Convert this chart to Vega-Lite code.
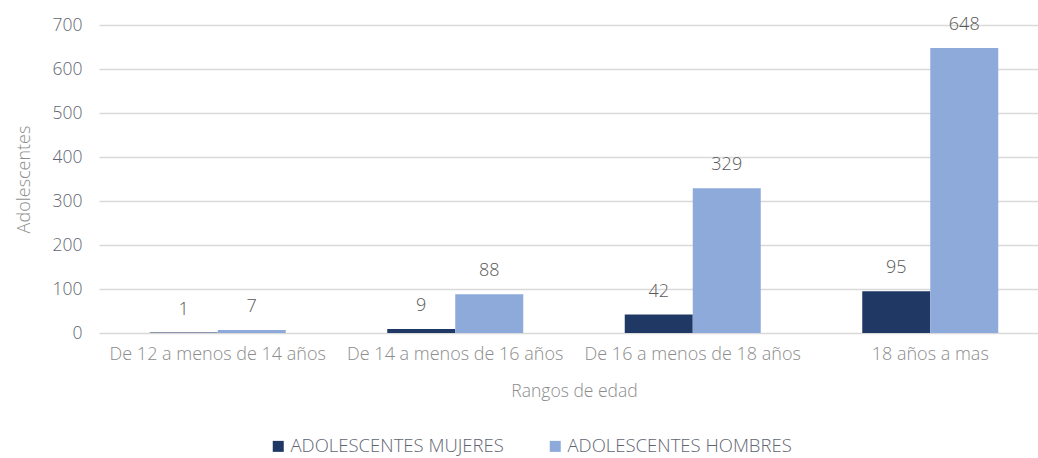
{
  "$schema": "https://vega.github.io/schema/vega-lite/v6.json",
  "autosize": {"type": "none"},
  "padding": {"left": 99, "top": 25, "right": 0, "bottom": 125},
  "width": 950,
  "height": 308,
  "background": "white",
  "config": {
    "font": "Open Sans",
    "view": {"stroke": null}
  },
  "data": {
    "values": [
      {"rango": "De 12 a menos de 14 años", "grupo": "ADOLESCENTES MUJERES", "valor": 1},
      {"rango": "De 12 a menos de 14 años", "grupo": "ADOLESCENTES HOMBRES", "valor": 7},
      {"rango": "De 14 a menos de 16 años", "grupo": "ADOLESCENTES MUJERES", "valor": 9},
      {"rango": "De 14 a menos de 16 años", "grupo": "ADOLESCENTES HOMBRES", "valor": 88},
      {"rango": "De 16 a menos de 18 años", "grupo": "ADOLESCENTES MUJERES", "valor": 42},
      {"rango": "De 16 a menos de 18 años", "grupo": "ADOLESCENTES HOMBRES", "valor": 329},
      {"rango": "18 años a mas", "grupo": "ADOLESCENTES MUJERES", "valor": 95},
      {"rango": "18 años a mas", "grupo": "ADOLESCENTES HOMBRES", "valor": 648}
    ]
  },
  "encoding": {
    "x": {
      "field": "rango",
      "type": "nominal",
      "sort": null,
      "scale": {"paddingInner": 0.4274, "paddingOuter": 0.2137},
      "axis": {
        "title": "Rangos de edad",
        "labelAngle": 0,
        "labelFontSize": 18,
        "labelFontWeight": 300,
        "labelColor": "#8c8c8c",
        "labelLimit": 0,
        "labelPadding": 12,
        "labelOverlap": false,
        "titleFontSize": 17.5,
        "titleColor": "#8c8c8c",
        "titleFontWeight": 300,
        "titlePadding": 19,
        "domain": false,
        "ticks": false
      }
    },
    "xOffset": {
      "field": "grupo",
      "type": "nominal",
      "sort": ["ADOLESCENTES MUJERES", "ADOLESCENTES HOMBRES"],
      "scale": {"paddingInner": 0, "paddingOuter": 0}
    },
    "y": {
      "field": "valor",
      "type": "quantitative",
      "scale": {"domain": [0, 700]},
      "axis": {
        "title": "Adolescentes",
        "values": [0, 100, 200, 300, 400, 500, 600, 700],
        "labelFontSize": 17.5,
        "labelFontWeight": 300,
        "labelColor": "#5f6673",
        "labelPadding": 17,
        "titleFontSize": 18,
        "titleColor": "#8c8c8c",
        "titleFontWeight": 300,
        "titlePadding": 19,
        "domain": false,
        "ticks": false,
        "gridColor": "#d9d9d9",
        "gridWidth": 1.5
      }
    }
  },
  "layer": [
    {
      "mark": {"type": "bar"},
      "encoding": {
        "color": {
          "field": "grupo",
          "type": "nominal",
          "sort": ["ADOLESCENTES MUJERES", "ADOLESCENTES HOMBRES"],
          "scale": {"domain": ["ADOLESCENTES MUJERES", "ADOLESCENTES HOMBRES"], "range": ["#1f3864", "#8eaadb"]},
          "legend": {
            "title": null,
            "orient": "none",
            "legendX": 170,
            "legendY": 412,
            "padding": 0,
            "direction": "horizontal",
            "columns": 2,
            "columnPadding": 42,
            "symbolType": "square",
            "symbolSize": 121,
            "symbolStrokeWidth": 0,
            "symbolOpacity": 1,
            "labelFontSize": 18.5,
            "labelFontWeight": 300,
            "labelColor": "#5f6673",
            "labelLimit": 0,
            "labelOffset": 3
          }
        }
      }
    },
    {
      "mark": {"type": "text", "baseline": "middle", "dy": -23, "fontSize": 18, "fontWeight": 300, "color": "#595959"},
      "encoding": {
        "text": {"field": "valor", "type": "quantitative"}
      }
    }
  ]
}
